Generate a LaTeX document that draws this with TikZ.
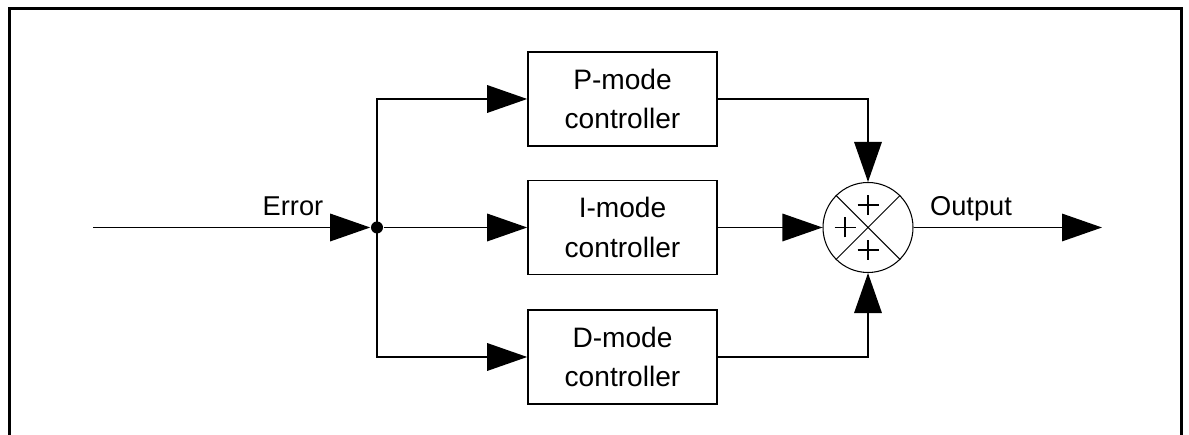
\documentclass[tikz,border=0pt]{standalone}
\usepackage{fontspec}
\setmainfont{Liberation Sans}
\usepackage{tikz}
\usetikzlibrary{arrows.meta}

\tikzset{
  ctrlbox/.style={draw,line width=.9pt,minimum width=3.78cm,minimum height=1.88cm,
    align=center,inner sep=0pt,font=\fontsize{16}{22.5}\selectfont},
  sumnode/.style={draw,circle,line width=.6pt,minimum size=1.8cm,inner sep=0pt},
  arr/.style={-{Triangle[length=.8cm,width=.55cm]}},
  lbl/.style={anchor=base,inner sep=0pt,font=\fontsize{15.5}{18}\selectfont},
}

\begin{document}
\begin{tikzpicture}[x=1cm,y=1cm,line width=.9pt]
\useasboundingbox (0,0) rectangle (23.78,8.70);
% frame (open at the bottom)
\draw[line width=.06cm] (0.20,0) -- (0.20,8.52) -- (23.62,8.52) -- (23.62,0);
\coordinate (in) at (1.86,4.15);
\coordinate (out) at (22.04,4.15);
\node[circle,fill,inner sep=0pt,minimum size=.24cm] (split) at (7.54,4.15) {};
\node[ctrlbox] (pbox) at (12.45,6.72) {P-mode\\controller};
\node[ctrlbox] (ibox) at (12.45,4.15) {I-mode\\controller};
\node[ctrlbox] (dbox) at (12.45,1.56) {D-mode\\controller};
\node[sumnode] (sum) at (17.36,4.15) {};
\draw[line width=.6pt] (sum.north west) -- (sum.south east) (sum.north east) -- (sum.south west);
\foreach \dx/\dy in {0/.45,-.46/0,0/-.45}
  \draw[line width=.6pt] ([shift={(\dx,\dy)}]sum.center) +(-.21,0) -- +(.21,0) +(0,-.2) -- +(0,.2);
\node[lbl] (err) at (5.86,4.38) {Error};
\node[lbl] (outlbl) at (19.42,4.38) {Output};
% connectors
\draw[arr] (in) -- (split);
\draw[arr] (split.center) |- (pbox);
\draw[arr] (split) -- (ibox);
\draw[arr] (split.center) |- (dbox);
\draw[arr] (pbox) -| (sum);
\draw[arr] (ibox) -- (sum);
\draw[arr] (dbox) -| (sum);
\draw[arr] (sum) -- (out);
\end{tikzpicture}
\end{document}
